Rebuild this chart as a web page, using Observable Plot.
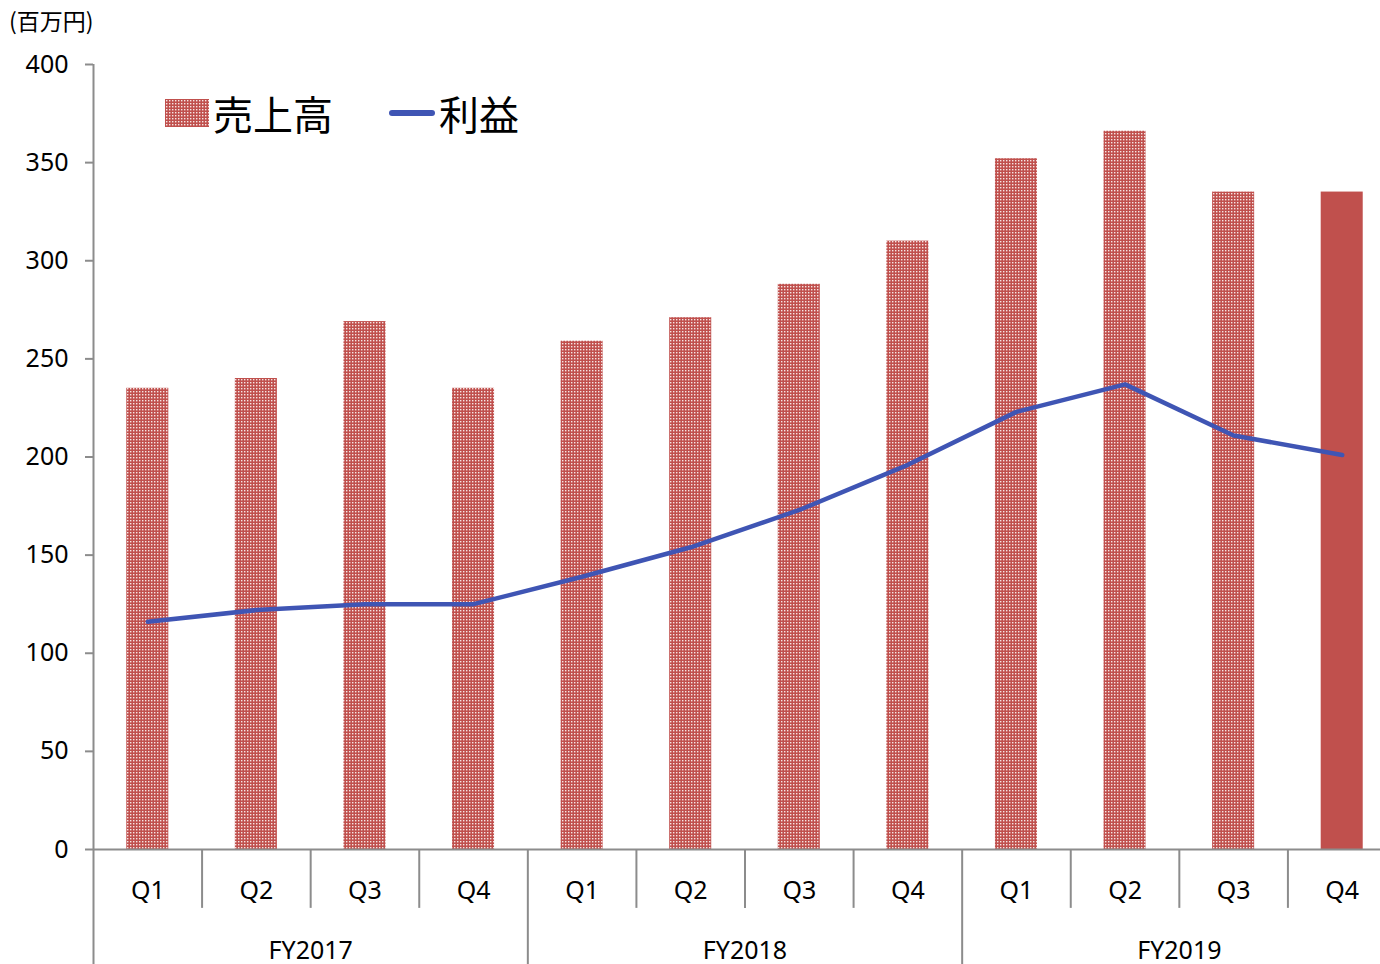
<!DOCTYPE html>
<html>
<head>
<meta charset="utf-8">
<script src="https://cdn.jsdelivr.net/npm/d3@7"></script>
<script src="https://cdn.jsdelivr.net/npm/@observablehq/plot@0.6"></script>
<style>
  html, body { margin: 0; padding: 0; background: #fff; overflow: hidden; }
  #wrap { position: relative; width: 1380px; height: 964px; font-family: "Noto Sans CJK JP", "DejaVu Sans", sans-serif; }
  #unit { position: absolute; left: 9px; top: 3px; font-size: 23px; color: #000; }
  #legend { position: absolute; left: 165px; top: 84px; display: flex; align-items: center; font-size: 40px; color: #000; }
  #legend .item { display: flex; align-items: center; margin-right: 56px; }
  svg.plot text { font-family: "Noto Sans CJK JP", "DejaVu Sans", sans-serif; }
</style>
</head>
<body>
<svg width="0" height="0" style="position:absolute">
  <defs>
    <pattern id="dots" width="3" height="3" patternUnits="userSpaceOnUse">
      <rect width="3" height="3" fill="#C0504D"></rect>
      <rect x="1" y="1" width="1.4" height="1.4" fill="#ffffff" fill-opacity="0.85"></rect>
    </pattern>
  </defs>
</svg>
<div id="wrap">
  <div id="unit">(百万円)</div>
  <div id="legend">
    <div class="item"><svg width="44" height="28" style="margin-right:4px"><rect width="44" height="28" fill="url(#dots)"></rect></svg><span>売上高</span></div>
    <div class="item"><svg width="46" height="8" style="margin-right:4px"><line x1="3" y1="4" x2="43" y2="4" stroke="#3F55B4" stroke-width="6" stroke-linecap="round"></line></svg><span>利益</span></div>
  </div>
</div>
<script>
const years = ["FY2017", "FY2017", "FY2017", "FY2017", "FY2018", "FY2018", "FY2018", "FY2018", "FY2019", "FY2019", "FY2019", "FY2019"];
const quarters = ["Q1", "Q2", "Q3", "Q4", "Q1", "Q2", "Q3", "Q4", "Q1", "Q2", "Q3", "Q4"];
const sales = [235, 240, 269, 235, 259, 271, 288, 310, 352, 366, 335, 335];
const profit = [116, 122, 125, 125, 139, 154, 173, 196, 223, 237, 211, 201];
const forecast = [false, false, false, false, false, false, false, false, false, false, false, true];
const yTicks = [0, 50, 100, 150, 200, 250, 300, 350, 400];

const rows = years.map((y, i) => ({
  key: y + "-" + quarters[i], year: y, q: quarters[i],
  sales: sales[i], profit: profit[i], solid: forecast[i]
}));
const keys = rows.map(d => d.key);

const x0 = 93, x1 = 1396;
const step = (x1 - x0) / keys.length;

const firstOfYear = rows.filter((d, i) => i === 0 || rows[i - 1].year !== d.year);
const innerBounds = rows.filter((d, i) => i > 0 && rows[i - 1].year === d.year);
const yearLabelAnchor = rows.filter((d, i) => d.q === "Q2");

const axisGray = "#8C8C8C";

const chart = Plot.plot({
  width: 1380,
  height: 964,
  marginTop: 64,
  marginBottom: 115,
  marginLeft: 93,
  marginRight: 0,
  style: { background: "transparent", overflow: "visible" },
  x: { domain: keys, range: [x0, x1], paddingInner: 0.613, paddingOuter: 0.3065, round: false, axis: null },
  y: { domain: [0, 400], ticks: yTicks, axis: null },
  marks: [
    Plot.barY(rows.filter(d => !d.solid), { x: "key", y: "sales", fill: "url(#dots)" }),
    Plot.barY(rows.filter(d => d.solid), { x: "key", y: "sales", fill: "#C0504D" }),
    // y axis
    Plot.axisY({ ticks: yTicks, tickSize: 8, tickPadding: 17, fontSize: 25, stroke: axisGray, strokeWidth: 2, color: "#000", tickFormat: d => d }),
    Plot.ruleX([0], { x: () => keys[0], dx: -step / 2, y1: 400, y2: -60, stroke: axisGray, strokeWidth: 2 }),
    // x axis line
    Plot.ruleY([0], { stroke: axisGray, strokeWidth: 2 }),
    // quarter separators
    Plot.ruleX(innerBounds, { x: "key", dx: -step / 2, y1: 0, y2: -30, stroke: axisGray, strokeWidth: 2 }),
    // year separators
    Plot.ruleX(firstOfYear.slice(1), { x: "key", dx: -step / 2, y1: 0, y2: -60, stroke: axisGray, strokeWidth: 2 }),
    // quarter labels
    Plot.text(rows, { x: "key", y: -21, text: "q", fontSize: 25, fill: "#000" }),
    // year labels
    Plot.text(yearLabelAnchor, { x: "key", dx: step / 2, y: -51.5, text: "year", fontSize: 25, fill: "#000" }),
    // profit line
    Plot.line(rows, { x: "key", y: "profit", stroke: "#3F55B4", strokeWidth: 4.5, curve: "linear" })
  ]
});
chart.style.position = "absolute";
chart.style.left = "0px";
chart.style.top = "0px";
document.getElementById("wrap").prepend(chart);
</script>
</body>
</html>
